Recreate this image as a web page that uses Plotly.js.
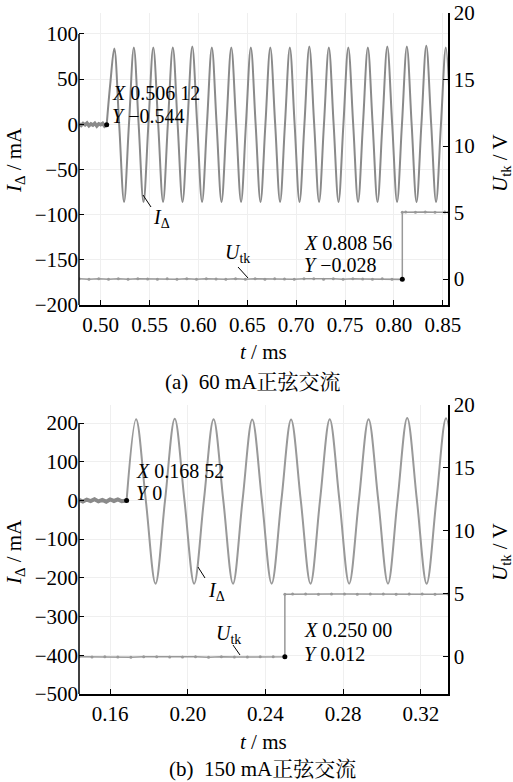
<!DOCTYPE html>
<html>
<head>
<meta charset="utf-8">
<script src="https://cdn.plot.ly/plotly-3.0.1.min.js"></script>
<style>
html,body{margin:0;padding:0;background:#fff;}
#chart{width:513px;height:782px;}
#chart svg text, #chart svg tspan { font-family: 'Liberation Serif', 'Noto Serif CJK SC', serif !important; }
</style>
</head>
<body>
<div id="chart"></div>
<script>
// ---------- (a) 60 mA ----------
const a_noise_t = [0.4780,0.4800,0.4820,0.4840,0.4860,0.4880,0.4900,0.4920,0.4940,0.4960,0.4980,0.5000,0.5020,0.5040,0.50612];
const a_noise_v = [0.5,-1.2,0.8,-0.6,1.3,-1.5,0.4,-0.9,1.1,-1.8,0.6,-0.4,1.0,-2.1,-0.544];
const a_I_t = [0.50612,0.5098,
  0.5139,0.5189,0.5239,0.5289, 0.5339,0.5388,0.5438,0.5488, 0.5538,0.5588,0.5638,0.5687,
  0.5738,0.5787,0.5837,0.5887, 0.5937,0.5987,0.6037,0.6087, 0.6137,0.6186,0.6236,0.6286,
  0.6336,0.6386,0.6436,0.6486, 0.6536,0.6585,0.6635,0.6685, 0.6735,0.6785,0.6835,0.6885,
  0.6935,0.6984,0.7034,0.7084, 0.7134,0.7184,0.7234,0.7284, 0.7334,0.7383,0.7433,0.7483,
  0.7533,0.7583,0.7633,0.7683, 0.7733,0.7782,0.7832,0.7882, 0.7932,0.7982,0.8032,0.8082,
  0.8132,0.8181,0.8231,0.8281, 0.8331,0.8381,0.8431,0.8481, 0.8531,0.8580];
const a_I_v = [-0.544,45,
  84,0,-86,0, 85,0,-86,0, 85,0,-86,0,
  85,0,-86,0, 86,0,-86,0, 85,0,-86,0,
  85,0,-86,0, 85,0,-86,0, 85,0,-86,0,
  85,0,-86,0, 86,0,-86,0, 85,0,-86,0,
  85,0,-86,0, 85,0,-86,0, 86,0,-86,0,
  86,0,-86,0, 87,0,-86,0, 85,0];
const a_U_t = [0.478,0.488,0.498,0.508,0.518,0.528,0.538,0.548,0.558,0.568,0.578,0.588,0.598,0.608,0.618,0.628,0.638,0.648,0.658,0.668,0.678,0.688,0.698,0.708,0.718,0.728,0.738,0.748,0.758,0.768,0.778,0.788,0.798,0.80856,
  0.80856,0.812,0.822,0.832,0.842,0.852,0.856];
const a_U_v = [0.01,-0.02,0.02,-0.01,0.02,-0.02,0.01,0.00,-0.02,0.02,-0.01,0.01,-0.02,0.02,0.00,-0.01,0.02,-0.02,0.01,-0.01,0.02,0.00,-0.02,0.01,0.02,-0.01,0.01,-0.02,0.02,0.00,-0.01,0.01,-0.02,-0.028,
  5.02,5.03,5.01,5.04,5.02,5.03,5.02];
const a_cursor_I = {t:[0.50612], v:[-0.544]};
const a_cursor_U = {t:[0.80856], v:[-0.028]};

// ---------- (b) 150 mA ----------
const b_noise_t = [0.1440,0.1460,0.1480,0.1500,0.1520,0.1540,0.1560,0.1580,0.1600,0.1620,0.1640,0.1660,0.16852];
const b_noise_v = [1.5,-3.0,2.2,-1.8,3.1,-2.5,1.2,-3.2,2.6,-1.4,2.8,-2.2,0];
const b_I_t = [0.16852,
  0.1734,0.1784,0.1834,0.1883, 0.1933,0.1983,0.2033,0.2083, 0.2133,0.2183,0.2233,0.2282,
  0.2332,0.2382,0.2432,0.2482, 0.2532,0.2582,0.2632,0.2681, 0.2731,0.2781,0.2831,0.2881,
  0.2931,0.2981,0.3031,0.3080, 0.3130,0.3180,0.3230,0.3280, 0.3330,0.3380];
const b_I_v = [0,
  210,0,-215,0, 211,0,-215,0, 210,0,-215,0,
  209,0,-215,0, 209,0,-215,0, 210,0,-215,0,
  210,0,-215,0, 213,0,-215,0, 212,0];
const b_U_t = [0.1440,0.1507,0.1573,0.1640,0.1707,0.1773,0.1840,0.1907,0.1973,0.2040,0.2107,0.2173,0.2240,0.2307,0.2373,0.2440,0.2500,
  0.2500,0.2540,0.2607,0.2673,0.2740,0.2807,0.2873,0.2940,0.3007,0.3073,0.3140,0.3207,0.3273,0.3340];
const b_U_v = [0.01,-0.01,0.02,0.00,-0.02,0.01,0.02,-0.01,0.00,0.01,-0.02,0.02,0.00,-0.01,0.01,0.02,0.012,
  4.98,4.99,5.00,4.98,5.00,4.99,4.98,5.00,4.99,4.98,5.00,4.99,4.98,4.99];
const b_cursor_I = {t:[0.16852], v:[0]};
const b_cursor_U = {t:[0.25000], v:[0.012]};

const SERIF = 'Liberation Serif';
const GREY = '#8a8a8a';
const GREY2 = '#999999';

const traces = [
  {x:a_noise_t, y:a_noise_v, xaxis:'x', yaxis:'y', mode:'lines', line:{color:GREY, width:3.5}, hoverinfo:'skip'},
  {x:a_I_t, y:a_I_v, xaxis:'x', yaxis:'y', mode:'lines', line:{color:GREY, width:2, shape:'spline', smoothing:1}, hoverinfo:'skip'},
  {x:a_U_t, y:a_U_v, xaxis:'x', yaxis:'y2', mode:'lines+markers', line:{color:GREY2, width:1.5}, marker:{color:GREY2, size:3}, hoverinfo:'skip'},
  {x:a_cursor_I.t, y:a_cursor_I.v, xaxis:'x', yaxis:'y', mode:'markers', marker:{color:'#000', size:5}},
  {x:a_cursor_U.t, y:a_cursor_U.v, xaxis:'x', yaxis:'y2', mode:'markers', marker:{color:'#000', size:5}},

  {x:b_noise_t, y:b_noise_v, xaxis:'x2', yaxis:'y3', mode:'lines', line:{color:GREY, width:4}, hoverinfo:'skip'},
  {x:b_I_t, y:b_I_v, xaxis:'x2', yaxis:'y3', mode:'lines', line:{color:GREY2, width:2, shape:'spline', smoothing:1}, hoverinfo:'skip'},
  {x:b_U_t, y:b_U_v, xaxis:'x2', yaxis:'y4', mode:'lines+markers', line:{color:GREY2, width:1.5}, marker:{color:GREY2, size:3}, hoverinfo:'skip'},
  {x:b_cursor_I.t, y:b_cursor_I.v, xaxis:'x2', yaxis:'y3', mode:'markers', marker:{color:'#000', size:5}},
  {x:b_cursor_U.t, y:b_cursor_U.v, xaxis:'x2', yaxis:'y4', mode:'markers', marker:{color:'#000', size:5}}
];

// pixel -> paper helpers (plot area: x 79..448, y 13..694)
const PL = 79, PR = 448, PT = 13, PB = 694;
const toPX = v => (v - PL) / (PR - PL);
const toPY = v => (PB - v) / (PB - PT);
const tickFont = {family:SERIF, size:21, color:'#000'};

function txt(text, x, y, size, xa) {
  return {text:text, xref:'paper', yref:'paper', x:toPX(x), y:toPY(y), xanchor:xa||'left', yanchor:'middle',
          showarrow:false, font:{family:SERIF, size:size||20, color:'#000'}};
}
function rot(text, x, y) {
  const a = txt(text, x, y, 21, 'center'); a.textangle = -90; return a;
}
function seg(x0,y0,x1,y1) {
  return {type:'line', xref:'paper', yref:'paper', x0:toPX(x0), y0:toPY(y0), x1:toPX(x1), y1:toPY(y1), line:{color:'#000', width:1}};
}

const annotations = [
  txt('<i>X</i> 0.506 12', 110, 93),
  txt('<i>Y</i> −0.544', 110, 116),
  txt('<i>I</i><sub>Δ</sub>', 151, 218),
  txt('<i>U</i><sub>tk</sub>', 223, 254),
  txt('<i>X</i> 0.808 56', 302, 243),
  txt('<i>Y</i> −0.028', 302, 265),
  txt('<i>t</i> / ms', 263, 352, 21, 'center'),
  txt('(a)  60 mA正弦交流', 253, 382, 21, 'center'),
  rot('<i>I</i><sub>Δ</sub> / mA', 15, 160),
  rot('<i>U</i><sub>tk</sub> / V', 501, 163),

  txt('<i>X</i> 0.168 52', 134, 471),
  txt('<i>Y</i> 0', 134, 493),
  txt('<i>I</i><sub>Δ</sub>', 206, 591),
  txt('<i>U</i><sub>tk</sub>', 214, 634),
  txt('<i>X</i> 0.250 00', 302, 630),
  txt('<i>Y</i> 0.012', 302, 654),
  txt('<i>t</i> / ms', 263, 742, 21, 'center'),
  txt('(b)  150 mA正弦交流', 262, 769, 21, 'center'),
  rot('<i>I</i><sub>Δ</sub> / mA', 15, 552),
  rot('<i>U</i><sub>tk</sub> / V', 501, 552)
];

const shapes = [
  {type:'line', xref:'paper', yref:'y', x0:0, x1:0, y0:-200, y1:100, line:{color:'#000', width:1.5}},
  {type:'line', xref:'paper', yref:'y3', x0:0, x1:0, y0:-500, y1:200, line:{color:'#000', width:1.5}},
  seg(143,195,151,207),
  seg(238,267,248,278),
  seg(198,567,205,578),
  seg(233,645,240,655)
];

function xax(range, tick0, dtick, anchor) {
  return {range:range, tick0:tick0, dtick:dtick, anchor:anchor, ticks:'inside', ticklen:5, tickcolor:'#000', tickwidth:1,
    showline:true, linecolor:'#000', linewidth:1.5, showgrid:true, gridcolor:'#efefef', gridwidth:1,
    zeroline:false, tickformat:'.2f', tickfont:tickFont, fixedrange:true};
}
function yax(range, dtick, domain, anchor) {
  return {range:range, tick0:0, dtick:dtick, domain:domain, anchor:anchor, ticks:'inside', ticklen:5, tickcolor:'#000', tickwidth:1,
    showline:false, showgrid:true, gridcolor:'#efefef', gridwidth:1, zeroline:false, tickfont:tickFont, fixedrange:true};
}
function yr(range, over, anchor) {
  return {range:range, tick0:0, dtick:5, overlaying:over, side:'right', anchor:anchor, ticks:'inside', ticklen:5, tickcolor:'#000', tickwidth:1,
    showline:true, linecolor:'#000', linewidth:1.5, showgrid:false, zeroline:false, tickfont:tickFont, fixedrange:true};
}

const layout = {
  width:513, height:782,
  margin:{l:PL, r:513-PR, t:PT, b:782-PB, pad:0},
  paper_bgcolor:'#fff', plot_bgcolor:'#fff',
  showlegend:false,
  xaxis: xax([0.4778, 0.8553], 0.5, 0.05, 'y'),
  yaxis: yax([-200, 123.2], 50, [toPY(305), 1], 'x'),
  yaxis2: yr([-1.955, 20], 'y', 'x'),
  xaxis2: xax([0.1440, 0.3340], 0.16, 0.04, 'y3'),
  yaxis3: yax([-500, 246.5], 100, [0, toPY(405)], 'x2'),
  yaxis4: yr([-2.94, 20], 'y3', 'x2'),
  annotations: annotations,
  shapes: shapes
};

Plotly.newPlot('chart', traces, layout, {staticPlot:true, displayModeBar:false});
</script>
</body>
</html>
